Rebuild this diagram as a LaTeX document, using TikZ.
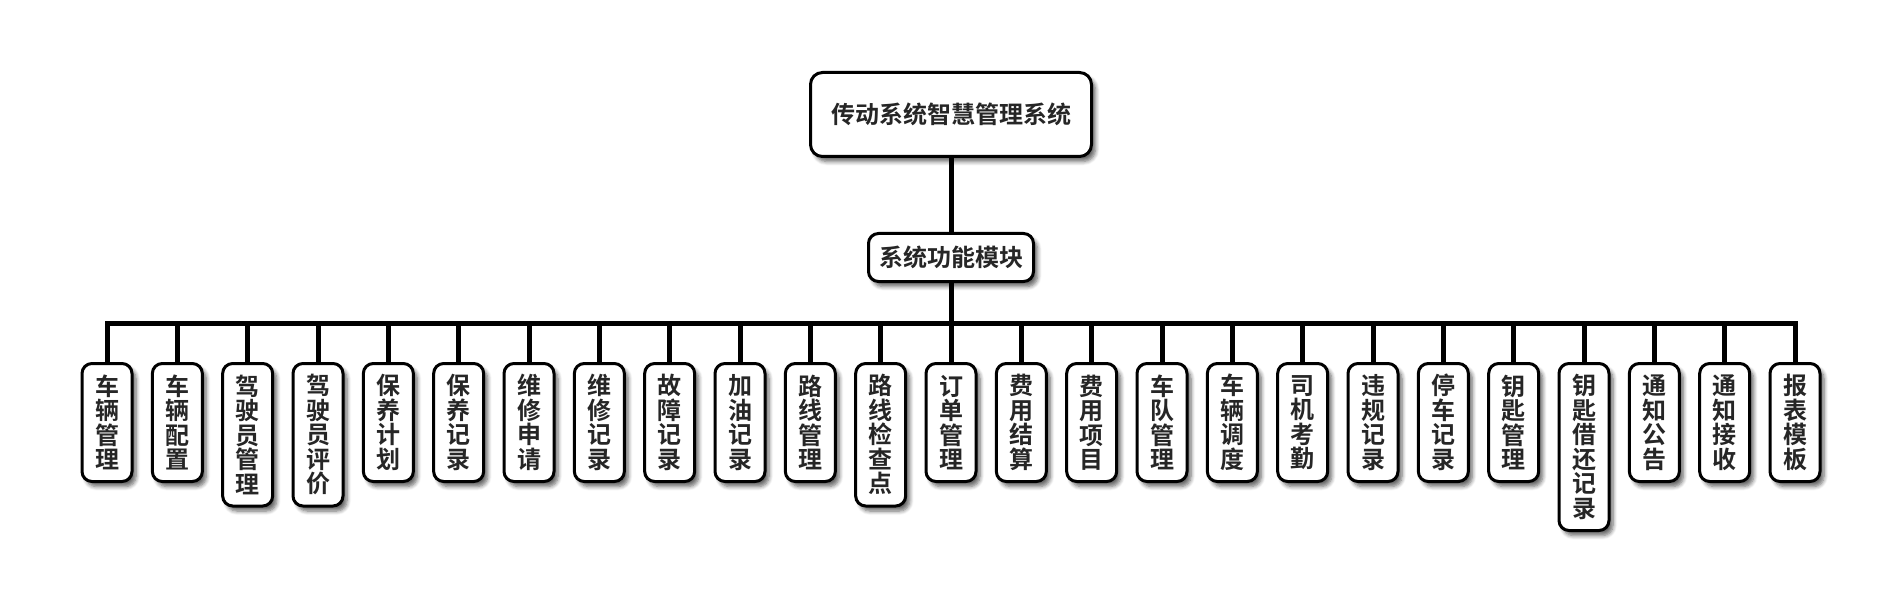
\documentclass[tikz,border=0pt]{standalone}
\usepackage{fontspec}
\newfontfamily\cjk{Noto Sans CJK SC}[BoldFont={Noto Sans CJK SC Bold}]
\usetikzlibrary{shadows.blur}

\begin{document}
\begin{tikzpicture}[x=1bp,y=-1bp,
  box/.style={draw=black, line width=3bp, fill=white, text=black!85,
    font=\cjk\bfseries\fontsize{24bp}{24.5bp}\selectfont,
    inner sep=0pt, outer sep=0pt, align=center,
    blur shadow={shadow xshift=4bp, shadow yshift=-5bp, shadow blur radius=4bp,
                 shadow blur steps=6, shadow opacity=60}},
  leaf/.style={box, rounded corners=10bp, minimum width=50bp, anchor=north},
  link/.style={line width=5bp, draw=black}]
\useasboundingbox (0,0) rectangle (1902,607);

% root and module header
\node[box, rounded corners=12bp, minimum width=281bp, minimum height=84bp]
  (root) at (951,114.5) {传动系统智慧管理系统};
\node[box, rounded corners=10bp, minimum width=165bp, minimum height=48bp]
  (func) at (951,257.5) {系统功能模块};
\coordinate (bus) at (951,323);

% module leaves, text stacked vertically
\foreach \t/\n [count=\i] in {
  车\\辆\\管\\理/4, 车\\辆\\配\\置/4, 驾\\驶\\员\\管\\理/5, 驾\\驶\\员\\评\\价/5,
  保\\养\\计\\划/4, 保\\养\\记\\录/4, 维\\修\\申\\请/4, 维\\修\\记\\录/4,
  故\\障\\记\\录/4, 加\\油\\记\\录/4, 路\\线\\管\\理/4, 路\\线\\检\\查\\点/5,
  订\\单\\管\\理/4, 费\\用\\结\\算/4, 费\\用\\项\\目/4, 车\\队\\管\\理/4,
  车\\辆\\调\\度/4, 司\\机\\考\\勤/4, 违\\规\\记\\录/4, 停\\车\\记\\录/4,
  钥\\匙\\管\\理/4, 钥\\匙\\借\\还\\记\\录/6, 通\\知\\公\\告/4, 通\\知\\接\\收/4,
  报\\表\\模\\板/4} {
  \node[leaf, minimum height={118bp+(\n-4)*24.5bp}]
    (l\i) at ({107+(\i-1)*70.333},363.5) {\t};
}

% connectors
\draw[link] (root) -- (func);
\draw[link] (func) -- (bus);
\draw[link] (l1.north) |- (bus) -| (l25.north);
\foreach \i in {2,...,24} {
  \draw[link] (l\i.north) -- (l\i.north |- bus);
}
\end{tikzpicture}
\end{document}
